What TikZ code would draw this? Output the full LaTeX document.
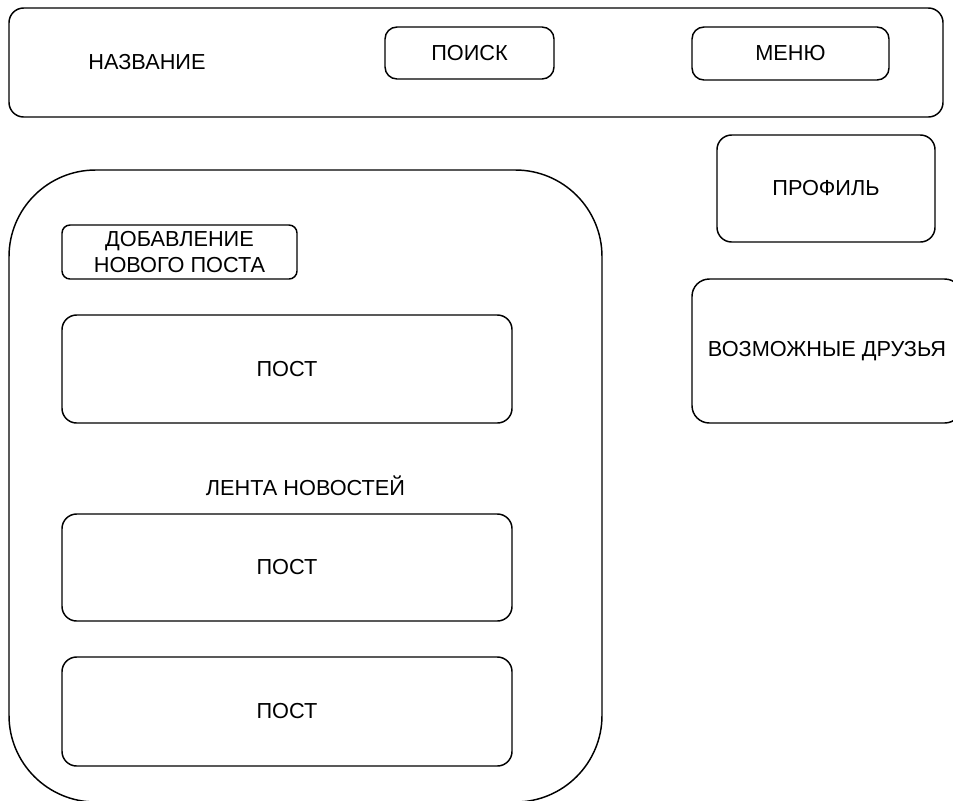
\documentclass[tikz,border=0pt]{standalone}
\usepackage{fontspec}
\setmainfont{Liberation Sans}

\begin{document}
\begin{tikzpicture}[x=0.75pt, y=-0.75pt, font=\fontsize{16.3}{19.5}\selectfont,
    box/.style 2 args = {draw, line width=1.1pt, rounded corners=11pt, inner sep=0pt, align=center,
        minimum width=#1*0.75pt, minimum height=#2*0.75pt}]

    % page area
    \clip (0,0) rectangle (953,800);

    % top bar
    \node[box={934}{109}] (header) at (476,62.5) {};
    \node (title) at (147,62) {НАЗВАНИЕ};
    \node[box={169}{52}, rounded corners=9pt] (search) at (469.5,53) {ПОИСК};
    \node[box={197}{53}, rounded corners=9pt] (menu) at (790.5,53.5) {МЕНЮ};

    % side panels
    \node[box={218}{107}] (profile) at (826,188.5) {ПРОФИЛЬ};
    \node[box={270}{144}, rounded corners=13pt] (friends) at (827,351) {ВОЗМОЖНЫЕ ДРУЗЬЯ};

    % news feed
    \node[box={593}{632}, rounded corners=65pt] (feed) at (305.5,486) {ЛЕНТА НОВОСТЕЙ};
    \node[box={235}{54}, rounded corners=6pt] (newpost) at (179.5,252) {ДОБАВЛЕНИЕ\\НОВОГО ПОСТА};
    \node[box={450}{108}] (post1) at (287,369) {ПОСТ};
    \node[box={450}{107}] (post2) at (287,567.5) {ПОСТ};
    \node[box={450}{109}] (post3) at (287,711.5) {ПОСТ};

\end{tikzpicture}
\end{document}
